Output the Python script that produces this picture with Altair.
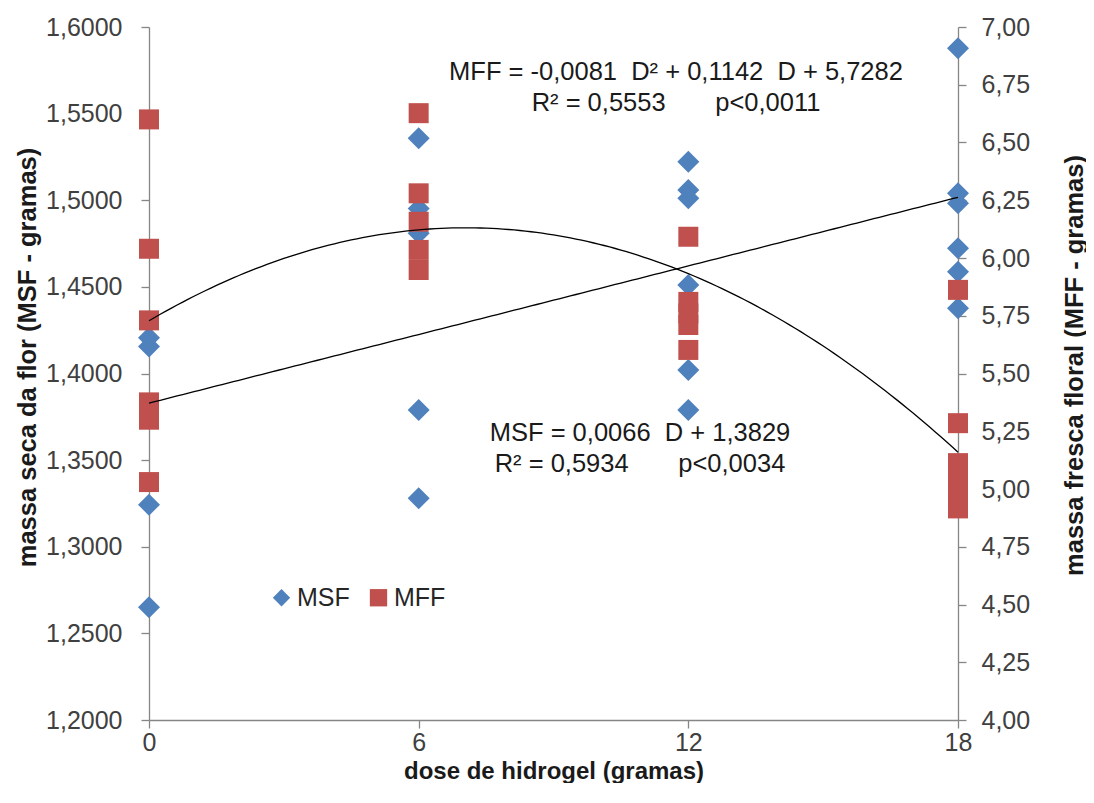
import altair as alt
import pandas as pd
import numpy as np

# ---- data ----
dose_msf = [0, 0, 0, 0,
            6, 6, 6, 6, 6,
            12, 12, 12, 12, 12, 12,
            18, 18, 18, 18, 18, 18]
msf = [1.4207, 1.4156, 1.3243, 1.2651,
       1.5358, 1.4953, 1.4809, 1.3789, 1.3280,
       1.5222, 1.5059, 1.5011, 1.4511, 1.4020, 1.3789,
       1.5877, 1.5040, 1.4982, 1.4723, 1.4588, 1.4376]

dose_mff = [0, 0, 0, 0, 0, 0,
            6, 6, 6, 6, 6,
            12, 12, 12, 12, 12,
            18, 18, 18, 18, 18, 18]
mff = [6.60, 6.04, 5.73, 5.375, 5.30, 5.03,
       6.627, 6.280, 6.157, 6.035, 5.948,
       6.092, 5.810, 5.760, 5.710, 5.602,
       5.862, 5.285, 5.112, 5.048, 4.983, 4.916]

# published regression coefficients
msf_coef = [0.0066, 1.3829]             # MSF = a D + b
mff_coef = [-0.0081, 0.1142, 5.7282]    # MFF = a D^2 + b D + c

x_ticks = [0, 6, 12, 18]
left_ticks = [1.20, 1.25, 1.30, 1.35, 1.40, 1.45, 1.50, 1.55, 1.60]
right_ticks = [4.00, 4.25, 4.50, 4.75, 5.00, 5.25, 5.50, 5.75, 6.00,
               6.25, 6.50, 6.75, 7.00]
series = ["MSF", "MFF"]
colors = ["#4F81BD", "#C0504D"]
shapes = ["diamond", "square"]

ann_mff = ["MFF = -0,0081\u00a0\u00a0D\u00b2 + 0,1142\u00a0\u00a0D + 5,7282",
           "R\u00b2 = 0,5553" + "\u00a0" * 7 + "p<0,0011"]
ann_msf = ["MSF = 0,0066\u00a0\u00a0D + 1,3829",
           "R\u00b2 = 0,5934" + "\u00a0" * 7 + "p<0,0034"]

FONT = "Liberation Sans"

msf_df = pd.DataFrame({"dose": dose_msf, "val": msf, "serie": "MSF"})
mff_df = pd.DataFrame({"dose": dose_mff, "val": mff, "serie": "MFF"})
grid = np.linspace(0, 18, 145)
msf_fit = pd.DataFrame({"dose": grid, "val": msf_coef[0] * grid + msf_coef[1]})
mff_fit = pd.DataFrame({"dose": grid,
                        "val": mff_coef[0] * grid ** 2 + mff_coef[1] * grid + mff_coef[2]})

xenc = alt.X("dose:Q",
             scale=alt.Scale(domain=[0, 18], nice=False, zero=False),
             axis=alt.Axis(values=x_ticks, title="dose  de hidrogel (gramas)",
                           tickSize=8, labelPadding=2,
                           titleFontSize=24, titleY=58, titleBaseline="alphabetic",
                           labelFlush=False))

left_scale = alt.Scale(domain=[1.2, 1.6], nice=False, zero=False)
right_scale = alt.Scale(domain=[4.0, 7.0], nice=False, zero=False)

left_axis = alt.Axis(orient="left", values=left_ticks,
                     labelExpr="replace(format(datum.value, '.4f'), '.', ',')",
                     title="massa  seca  da  flor  (MSF  -  gramas)",
                     tickSize=8, labelPadding=19,
                     titleAngle=270, titleX=-122, titleY=330,
                     titleAlign="center", titleBaseline="middle")
right_axis = alt.Axis(orient="right", values=right_ticks,
                      labelExpr="replace(format(datum.value, '.2f'), '.', ',')",
                      title="massa  fresca  floral  (MFF  -  gramas)",
                      tickSize=8, labelPadding=15,
                      titleAngle=270, titleX=116, titleY=338,
                      titleAlign="center", titleBaseline="middle")

color = alt.Color("serie:N", scale=alt.Scale(domain=series, range=colors),
                  legend=alt.Legend(orient="none", legendX=120, legendY=558,
                                    direction="horizontal", title=None,
                                    labelFont=FONT, labelFontSize=25,
                                    labelColor="#262626", symbolSize=300,
                                    symbolStrokeWidth=0, columnPadding=16,
                                    labelOffset=3, padding=0))
shape = alt.Shape("serie:N", scale=alt.Scale(domain=series, range=shapes))

blue_pts = alt.Chart(msf_df).mark_point(filled=True, size=484, opacity=1).encode(
    x=xenc, y=alt.Y("val:Q", scale=left_scale, axis=left_axis),
    color=color, shape=shape)

red_pts = alt.Chart(mff_df).mark_point(filled=True, size=400, opacity=1).encode(
    x=xenc, y=alt.Y("val:Q", scale=right_scale, axis=right_axis),
    color=color, shape=shape)

msf_line = alt.Chart(msf_fit).mark_line(color="black", strokeWidth=1.3).encode(
    x=xenc, y=alt.Y("val:Q", scale=left_scale, axis=None))

mff_line = alt.Chart(mff_fit).mark_line(color="black", strokeWidth=1.3).encode(
    x=xenc, y=alt.Y("val:Q", scale=right_scale, axis=None))


def ann(lines, cx, cy, step):
    out = []
    for i, t in enumerate(lines):
        out.append(
            alt.Chart(pd.DataFrame({"t": [t]})).mark_text(
                font=FONT, fontSize=25.5, color="#1a1a1a",
                align="center", baseline="middle").encode(
                text="t:N", x=alt.value(cx), y=alt.value(cy + i * step)))
    return out


texts = ann(ann_mff, 527, 45, 31) + ann(ann_msf, 491, 406, 31)

chart = alt.layer(blue_pts, red_pts, msf_line, mff_line, *texts).resolve_scale(
    y="independent"
).properties(
    width=809, height=693,
    autosize=alt.AutoSizeParams(type="none"),
    padding={"left": 141, "top": 19, "right": 128, "bottom": 63},
).configure_view(strokeWidth=0).configure_axis(
    grid=False, labelFont=FONT, labelFontSize=25, labelColor="#404040",
    titleFont=FONT, titleFontSize=25.5, titleFontWeight="bold", titleColor="#1a1a1a",
    domainColor="#868686", tickColor="#868686", domainWidth=1.3, tickWidth=1.3
)

chart.save("out.html", embed_options={"renderer": "svg", "actions": False})
